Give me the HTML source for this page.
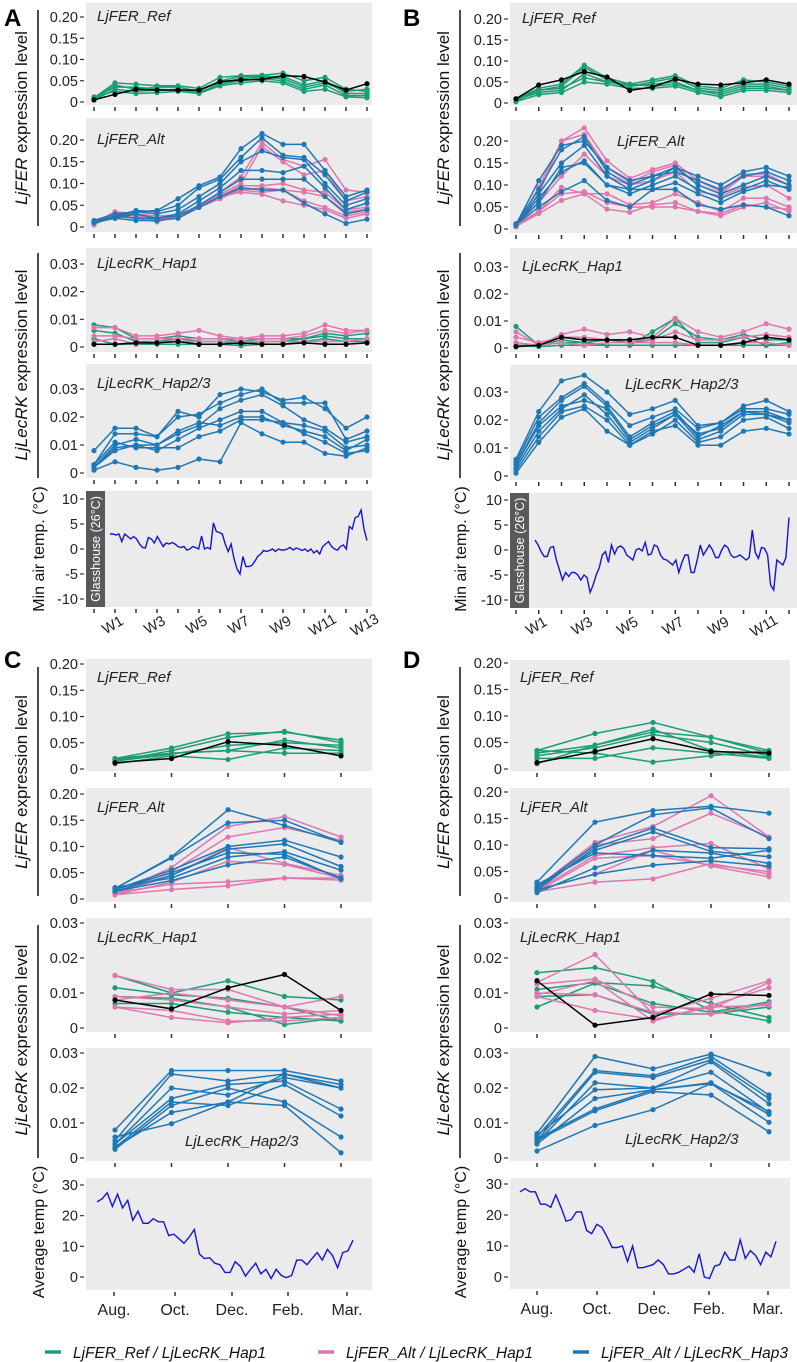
<!DOCTYPE html>
<html><head><meta charset="utf-8"><style>
body{margin:0;background:#fff;}
svg{display:block;font-family:"Liberation Sans",Arial,sans-serif;}
</style></head><body>
<svg id="fig" width="797" height="1362" viewBox="0 0 797 1362" xmlns="http://www.w3.org/2000/svg"></svg>
<script>
// ---------- DATA ----------
const ferTickVals=[0,0.05,0.10,0.15,0.20];
const ferTickLabels=['0','0.05','0.10','0.15','0.20'];
const lecTickVals=[0,0.01,0.02,0.03];
const lecTickLabels=['0','0.01','0.02','0.03'];
const minTempTickVals=[10,5,0,-5,-10];
const minTempTickLabels=['10','5','0','-5','-10'];
const avgTempTickVals=[30,20,10,0];
const avgTempTickLabels=['30','20','10','0'];
const weekLabelsA=['','W1','','W3','','W5','','W7','','W9','','W11','','W13'];
const weekLabelsB=['','W1','','W3','','W5','','W7','','W9','','W11',''];
const monthLabels=['Aug.','Oct.','Dec.','Feb.','Mar.'];

// Panel A
const A_ref_green=[[.01,.045,.042,.038,.038,.032,.058,.062,.063,.068,.05,.058,.03,.025],[.008,.04,.03,.035,.035,.025,.05,.06,.06,.06,.04,.05,.02,.02],[.005,.03,.025,.028,.03,.022,.042,.05,.055,.05,.03,.04,.015,.015],[.012,.025,.02,.022,.025,.02,.038,.045,.05,.045,.025,.03,.012,.01],[.01,.035,.035,.03,.028,.028,.045,.055,.058,.055,.035,.045,.025,.03]];
const A_ref_black=[.005,.018,.03,.028,.028,.028,.048,.052,.053,.062,.06,.047,.028,.043];
const A_alt_pink=[[.005,.035,.03,.025,.028,.045,.08,.115,.195,.155,.14,.155,.085,.08],[.008,.03,.025,.02,.03,.045,.075,.10,.185,.15,.12,.13,.06,.07],[.005,.028,.028,.012,.03,.045,.07,.095,.095,.10,.085,.08,.04,.045],[.006,.032,.025,.015,.03,.045,.065,.085,.09,.085,.08,.07,.035,.04],[.01,.035,.03,.02,.025,.045,.07,.08,.075,.06,.05,.04,.02,.03],[.008,.03,.02,.012,.025,.05,.07,.085,.08,.085,.06,.045,.025,.035]];
const A_alt_blue=[[.012,.022,.035,.038,.065,.095,.115,.18,.215,.19,.19,.13,.07,.085],[.01,.025,.038,.035,.05,.09,.11,.16,.205,.165,.16,.12,.06,.08],[.015,.03,.035,.03,.04,.07,.10,.15,.175,.16,.155,.10,.05,.065],[.01,.02,.03,.02,.03,.06,.09,.13,.13,.125,.14,.09,.04,.055],[.012,.025,.02,.02,.025,.05,.08,.11,.11,.11,.11,.07,.03,.04],[.012,.02,.015,.015,.02,.045,.07,.09,.085,.085,.055,.03,.008,.018]];
const A_hap1_green=[[.008,.007,.003,.003,.004,.003,.003,.002,.003,.003,.003,.005,.004,.005],[.006,.005,.002,.002,.003,.002,.002,.001,.002,.002,.003,.004,.003,.003],[.003,.001,.001,.001,.001,.001,.001,.0005,.001,.001,.002,.003,.002,.002]];
const A_hap1_pink=[[.007,.007,.004,.004,.005,.006,.004,.003,.004,.004,.005,.008,.006,.006],[.004,.004,.003,.003,.003,.003,.003,.003,.003,.003,.004,.006,.005,.006],[.002,.003,.001,.002,.002,.002,.002,.002,.002,.002,.002,.002,.002,.003]];
const A_hap1_black=[.001,.001,.0015,.0015,.002,.001,.001,.0015,.001,.001,.0015,.001,.001,.0015];
const A_hap23_blue=[[.008,.016,.016,.013,.022,.020,.028,.030,.029,.026,.027,.023,.016,.020],[.003,.014,.014,.013,.020,.021,.025,.028,.030,.025,.025,.025,.012,.015],[.002,.010,.012,.010,.014,.017,.023,.026,.028,.024,.019,.016,.011,.013],[.002,.009,.010,.008,.012,.016,.019,.022,.022,.018,.017,.015,.009,.010],[.003,.011,.009,.009,.009,.013,.015,.019,.019,.018,.014,.011,.007,.008],[.001,.004,.002,.001,.002,.005,.004,.018,.014,.011,.011,.007,.006,.009],[.002,.008,.010,.010,.015,.018,.017,.020,.020,.017,.015,.013,.008,.012]];
const A_minTemp=[3,3,2.8,3,1.5,3,2.5,2,2.5,2,1,0.3,0.2,2.3,2,1.2,2.5,1.5,0.5,1.2,1,1.3,1,0.5,0.3,0.5,-0.2,0,0.5,0.3,0,2.6,0,0.3,0,5.2,3.5,3.3,3,1,-0.5,1,-2,-4,-5,-1.5,-3.5,-3.5,-3.3,-2.5,-1.5,-1,-0.3,-0.5,-0.3,0,-0.5,0,-0.2,-0.2,0,0.3,-0.2,0.2,0,-0.3,0,-0.5,0,-0.8,-0.3,-1,0.5,1,1.5,0.5,0,-0.2,0.5,0.8,0,4.5,4,6.3,6.5,7.8,4,1.7];

// Panel B
const B_ref_green=[[.01,.035,.045,.09,.06,.045,.055,.065,.04,.035,.055,.05,.04],[.005,.03,.04,.085,.055,.04,.05,.06,.035,.03,.045,.045,.035],[.008,.025,.03,.07,.05,.04,.045,.05,.03,.025,.04,.04,.03],[.003,.02,.025,.05,.045,.035,.035,.04,.025,.015,.03,.03,.025],[.01,.03,.035,.06,.05,.045,.04,.045,.03,.02,.035,.035,.03]];
const B_ref_black=[.01,.043,.055,.075,.062,.03,.038,.057,.045,.043,.048,.055,.045];
const B_alt_pink=[[.005,.095,.20,.23,.155,.115,.135,.15,.11,.085,.125,.125,.10],[.008,.08,.20,.215,.14,.105,.13,.145,.10,.08,.12,.12,.10],[.008,.06,.12,.17,.12,.10,.11,.13,.085,.075,.095,.10,.07],[.005,.04,.095,.08,.08,.055,.06,.08,.06,.04,.07,.07,.05],[.006,.035,.065,.08,.045,.038,.055,.06,.04,.03,.05,.06,.04],[.01,.04,.08,.085,.06,.05,.05,.05,.04,.035,.055,.05,.045]];
const B_alt_blue=[[.01,.11,.19,.20,.14,.11,.12,.14,.12,.10,.13,.14,.12],[.012,.09,.18,.21,.13,.10,.12,.13,.11,.09,.12,.13,.11],[.008,.08,.15,.19,.12,.09,.11,.14,.10,.08,.10,.12,.10],[.01,.07,.13,.155,.10,.08,.10,.12,.09,.07,.09,.11,.09],[.01,.05,.085,.11,.065,.05,.09,.09,.055,.045,.055,.05,.03],[.012,.06,.14,.15,.10,.09,.09,.105,.08,.06,.085,.10,.095]];
const B_hap1_green=[[.008,.001,.003,.002,.003,.002,.003,.009,.004,.003,.005,.003,.003],[.001,.001,.002,.002,.001,.001,.006,.011,.002,.002,.004,.001,.002],[.001,.0005,.001,.001,.001,.001,.001,.001,.001,.001,.001,.001,.001]];
const B_hap1_pink=[[.006,.001,.005,.007,.005,.006,.004,.011,.006,.004,.006,.009,.007],[.004,.002,.004,.004,.003,.003,.003,.006,.003,.003,.004,.005,.004],[.002,.001,.002,.001,.002,.002,.002,.002,.001,.001,.002,.002,.001]];
const B_hap1_black=[.0005,.001,.004,.003,.003,.003,.004,.004,.001,.001,.002,.004,.003];
const B_hap23_blue=[[.006,.023,.034,.036,.030,.022,.024,.027,.018,.019,.025,.027,.023],[.005,.021,.028,.033,.026,.018,.021,.024,.017,.019,.024,.024,.022],[.004,.019,.027,.032,.025,.014,.019,.023,.014,.018,.023,.023,.020],[.003,.016,.024,.029,.022,.012,.017,.022,.013,.016,.022,.022,.019],[.002,.014,.023,.025,.020,.011,.015,.020,.012,.014,.020,.021,.017],[.001,.012,.021,.024,.016,.011,.016,.018,.011,.011,.016,.017,.015],[.004,.018,.025,.027,.024,.013,.018,.022,.015,.017,.023,.022,.020]];
const B_minTemp=[2,1,-0.3,-1.3,-1.3,0.5,0.7,-2,-4,-6,-4.5,-5.3,-4.5,-4.5,-5,-6,-5,-5.5,-8.5,-7,-5,-3.5,-1,-0.3,-2.5,1,-0.8,0.5,0.8,0.3,-1,-1.5,-2,0,0.3,-0.2,1.5,-1,-0.8,1,0.7,-1,-1.8,-2,-2.5,-3,-2,-4.5,-2.5,-1,-1,-4.5,-4.5,-2,1,-1,0,1,0,-1.5,-1.5,0,1,0.5,-1,-1.5,-1.3,-1,-1.5,-2,-1.5,4,-0.5,-1.7,0.5,0.3,-1,-7,-8,-2,-2.5,-3,-1.5,6.5];

// Panel C
const C_ref_green=[[.02,.04,.067,.07,.055],[.015,.035,.06,.072,.05],[.018,.03,.035,.055,.04],[.01,.025,.018,.04,.035],[.02,.03,.035,.03,.03],[.015,.028,.045,.05,.045]];
const C_ref_black=[.012,.02,.052,.045,.025];
const C_alt_pink=[[.01,.06,.138,.157,.118],[.012,.052,.118,.136,.112],[.01,.045,.098,.068,.045],[.008,.032,.072,.066,.04],[.012,.028,.033,.04,.036],[.008,.018,.025,.04,.04]];
const C_alt_blue=[[.02,.08,.17,.14,.108],[.02,.078,.145,.15,.108],[.018,.055,.10,.112,.08],[.015,.045,.095,.105,.062],[.022,.04,.08,.09,.055],[.015,.035,.065,.08,.04],[.018,.05,.088,.085,.038]];
const C_hap1_green=[[.015,.01,.0135,.009,.008],[.0115,.0095,.0085,.006,.002],[.009,.0085,.006,.001,.003],[.007,.007,.0045,.003,.002]];
const C_hap1_pink=[[.015,.011,.011,.006,.009],[.009,.008,.006,.004,.005],[.006,.005,.002,.002,.003],[.006,.003,.0015,.003,.004],[.008,.01,.008,.006,.0035]];
const C_hap1_black=[.008,.0055,.0115,.0153,.005];
const C_hap23_blue=[[.008,.025,.025,.025,.022],[.005,.024,.022,.024,.020],[.004,.02,.018,.023,.02],[.004,.017,.021,.022,.014],[.003,.016,.015,.021,.012],[.0025,.015,.02,.016,.006],[.003,.013,.016,.015,.0015],[.006,.0098,.016,.024,.021]];
const C_avgTemp=[24.5,25.5,27.5,23,27,22.5,25,18.5,21.5,17.5,17.5,19,18,18,13.5,14,12.5,11,13,15.5,7.5,6,6.3,4.5,4,1.5,1.5,5,3.5,0.3,2.5,4.5,1,2.5,-0.5,2.5,0.5,-0.2,0.5,5.5,5.5,4,6,8,5.5,9,7,3,8,8.5,12];

// Panel D
const D_ref_green=[[.035,.067,.088,.06,.035],[.03,.045,.07,.06,.03],[.025,.04,.065,.05,.025],[.02,.02,.04,.03,.02],[.035,.03,.013,.025,.035],[.01,.045,.075,.035,.022]];
const D_ref_black=[.012,.033,.057,.033,.03];
const D_alt_pink=[[.02,.105,.135,.193,.115],[.018,.1,.112,.16,.115],[.015,.08,.095,.103,.055],[.012,.075,.08,.062,.05],[.015,.045,.09,.06,.04],[.012,.03,.036,.065,.045]];
const D_alt_blue=[[.03,.143,.165,.173,.16],[.02,.10,.157,.17,.112],[.015,.095,.132,.095,.093],[.02,.09,.125,.088,.078],[.01,.057,.09,.085,.065],[.015,.045,.062,.07,.06],[.025,.085,.08,.075,.09]];
const D_hap1_green=[[.0158,.0173,.0133,.005,.002],[.011,.013,.012,.007,.003],[.009,.0095,.004,.004,.006],[.006,.0128,.007,.0045,.0075]];
const D_hap1_pink=[[.013,.021,.004,.0085,.0135],[.0125,.014,.006,.0055,.013],[.01,.0095,.0045,.004,.007],[.009,.005,.0025,.006,.0065],[.0095,.0135,.002,.0065,.0115]];
const D_hap1_black=[.0135,.0008,.003,.0097,.0093];
const D_hap23_blue=[[.007,.029,.0255,.0297,.024],[.006,.025,.0235,.029,.018],[.005,.0245,.023,.028,.017],[.0045,.0215,.02,.0275,.0155],[.0065,.0195,.02,.0245,.013],[.004,.017,.0195,.0215,.0125],[.0055,.014,.0195,.0213,.0102],[.005,.0135,.019,.018,.0075],[.002,.0093,.0138,.0213,.0133]];
const D_avgTemp=[27.5,28.5,27.5,27.5,23.5,23.5,22.5,26.5,22.5,18,18.5,21,21,15,14,17,16,13,9.5,9.5,10,5,10,3,3,3.5,4,5.5,4,1,1,1.5,2.5,3.5,1.5,7.5,0,-0.5,3.5,4,8,5.5,5.5,12,6,8.5,7,4,8,6.5,11.5];

// ---------- DRAW ----------
const NS='http://www.w3.org/2000/svg';
const svg=document.getElementById('fig');
const GREEN='#1b9e77',PINK='#de77ae',BLUE='#1f78b4',BLACK='#000',TEMP='#1414d2';
function mk(tag,attrs,parent){const e=document.createElementNS(NS,tag);for(const k in attrs)e.setAttribute(k,attrs[k]);(parent||svg).appendChild(e);return e;}

function exprPanel(p){
  const g=mk('g',{});
  
  
  const bg=mk('rect',{x:p.x0,y:p.y0,width:p.x1-p.x0,height:p.y1-p.y0,fill:'#ebebeb'},g);
  
  
  const yS=v=>p.yZero-(v/p.vmax)*(p.yZero-p.yTop);
  const xS=i=>p.tx0+i*(p.tx1-p.tx0)/(p.n-1);
  p.tickVals.forEach((v,i)=>{
    const t=mk('line',{x1:p.axisX-4,x2:p.axisX,y1:yS(v),y2:yS(v),stroke:'#333','stroke-width':1.2},g);
    
    
    const l=mk('text',{x:p.axisX-6,y:yS(v)+5,'text-anchor':'end','font-size':14.5,fill:'#222'},g);
    l.textContent=p.tickLabels[i];
    
    
  });
  for(let i=0;i<p.n;i++){
    const t=mk('line',{x1:xS(i),x2:xS(i),y1:p.y1+2,y2:p.y1+6,stroke:'#333','stroke-width':1.5},g);
    
    
  }
  const lbl=mk('text',{x:p.lx,y:p.ly,'font-size':15,'font-style':'italic',fill:'#222'},g);
  lbl.textContent=p.label;
  
  
  p.series.forEach(s=>{
    s.sets.forEach((arr,si)=>{
      const pts=arr.map((v,i)=>xS(i).toFixed(1)+','+yS(v).toFixed(1)).join(' ');
      const pl=mk('polyline',{points:pts,fill:'none',stroke:s.color,'stroke-width':1.5},g);
      
      
      arr.forEach((v,i)=>{
        const c=mk('circle',{cx:xS(i),cy:yS(v),r:2.6,fill:s.color},g);
        
        
      });
    });
  });
}

function tempPanel(p){
  const g=mk('g',{});
  
  
  const bg=mk('rect',{x:p.x0,y:p.y0,width:p.x1-p.x0,height:p.y1-p.y0,fill:'#ebebeb'},g);
  
  
  const yS=v=>p.yA+(p.vA-v)/(p.vA-p.vB)*(p.yB-p.yA);
  p.tickVals.forEach((v,i)=>{
    const t=mk('line',{x1:p.axisX-4,x2:p.axisX,y1:yS(v),y2:yS(v),stroke:'#333','stroke-width':1.2},g);
    
    
    const l=mk('text',{x:p.axisX-6,y:yS(v)+5,'text-anchor':'end','font-size':14.5,fill:'#222'},g);
    l.textContent=p.tickLabels[i];
    
    
  });
  if(p.glass){
    const r=mk('rect',{x:p.x0,y:p.y0,width:19,height:p.y1-p.y0,fill:'#595959'},g);
    
    
    const gt=mk('text',{x:0,y:0,'font-size':12.5,fill:'#fff','text-anchor':'middle',transform:`translate(${p.x0+14},${(p.y0+p.y1)/2}) rotate(-90)`},g);
    gt.textContent='Glasshouse (26°C)';
    
    
  }
  const n=p.data.length;
  const xS=i=>p.dx0+i*(p.dx1-p.dx0)/(n-1);
  const pts=p.data.map((v,i)=>xS(i).toFixed(1)+','+yS(v).toFixed(1)).join(' ');
  const pl=mk('polyline',{points:pts,fill:'none',stroke:TEMP,'stroke-width':1.4},g);
  
  
  p.ticks.forEach((x,i)=>{
    const t=mk('line',{x1:x,x2:x,y1:p.y1+2,y2:p.y1+6,stroke:'#333','stroke-width':1.5},g);
    
    
    const lab=p.labels[i];
    if(!lab)return;
    let tx;
    if(p.rot){tx=mk('text',{x:0,y:0,'font-size':14.5,fill:'#222','text-anchor':'middle',transform:`translate(${x},${p.y1+22}) rotate(-30)`},g);}
    else{tx=mk('text',{x:x,y:p.y1+25,'font-size':16,fill:'#222','text-anchor':'middle'},g);}
    tx.textContent=lab;
    
    
  });
}

function evenTicks(a,b,n){const r=[];for(let i=0;i<n;i++)r.push(a+i*(b-a)/(n-1));return r;}

function S(g,p,b,k){const out=[{kind:'green-ref',color:GREEN,sets:g||[]},{kind:'pink-alt',color:PINK,sets:p||[]},{kind:'blue-alt-hap3',color:BLUE,sets:b||[]}];if(k)out.push({kind:'black-reference',color:BLACK,sets:[k]});return out;}

// A
exprPanel({name:'panel-a-ljfer-ref',x0:86,x1:372,y0:3,y1:105,axisX:84,yZero:102,yTop:17,vmax:.2,tickVals:ferTickVals,tickLabels:ferTickLabels,tx0:94,tx1:367,n:14,label:'LjFER_Ref',lx:97,ly:21,series:S(A_ref_green,null,null,A_ref_black)});
exprPanel({name:'panel-a-ljfer-alt',x0:86,x1:372,y0:118,y1:232,axisX:84,yZero:227,yTop:140,vmax:.2,tickVals:ferTickVals,tickLabels:ferTickLabels,tx0:94,tx1:367,n:14,label:'LjFER_Alt',lx:97,ly:144,series:S(null,A_alt_pink,A_alt_blue)});
exprPanel({name:'panel-a-hap1',x0:86,x1:372,y0:248,y1:352,axisX:84,yZero:347,yTop:264,vmax:.03,tickVals:lecTickVals,tickLabels:lecTickLabels,tx0:94,tx1:367,n:14,label:'LjLecRK_Hap1',lx:97,ly:268,series:S(A_hap1_green,A_hap1_pink,null,A_hap1_black)});
exprPanel({name:'panel-a-hap23',x0:86,x1:372,y0:364,y1:478,axisX:84,yZero:473,yTop:389,vmax:.03,tickVals:lecTickVals,tickLabels:lecTickLabels,tx0:94,tx1:367,n:14,label:'LjLecRK_Hap2/3',lx:97,ly:388,series:S(null,null,A_hap23_blue)});
tempPanel({name:'panel-a-min-temp',x0:86,x1:372,y0:491,y1:607,axisX:84,yA:499,vA:10,yB:599,vB:-10,tickVals:minTempTickVals,tickLabels:minTempTickLabels,glass:true,data:A_minTemp,dx0:110,dx1:367,ticks:evenTicks(94,367,14),labels:weekLabelsA,rot:true});
// B
exprPanel({name:'panel-b-ljfer-ref',x0:510,x1:797,y0:3,y1:105,axisX:508,yZero:103,yTop:19,vmax:.2,tickVals:ferTickVals,tickLabels:ferTickLabels,tx0:516,tx1:789,n:13,label:'LjFER_Ref',lx:522,ly:23,series:S(B_ref_green,null,null,B_ref_black)});
exprPanel({name:'panel-b-ljfer-alt',x0:510,x1:797,y0:120,y1:233,axisX:508,yZero:229,yTop:141,vmax:.2,tickVals:ferTickVals,tickLabels:ferTickLabels,tx0:516,tx1:789,n:13,label:'LjFER_Alt',lx:617,ly:146,series:S(null,B_alt_pink,B_alt_blue)});
exprPanel({name:'panel-b-hap1',x0:510,x1:797,y0:248,y1:352,axisX:508,yZero:348,yTop:267,vmax:.03,tickVals:lecTickVals,tickLabels:lecTickLabels,tx0:516,tx1:789,n:13,label:'LjLecRK_Hap1',lx:522,ly:271,series:S(B_hap1_green,B_hap1_pink,null,B_hap1_black)});
exprPanel({name:'panel-b-hap23',x0:510,x1:797,y0:365,y1:480,axisX:508,yZero:476,yTop:392,vmax:.03,tickVals:lecTickVals,tickLabels:lecTickLabels,tx0:516,tx1:789,n:13,label:'LjLecRK_Hap2/3',lx:625,ly:389,series:S(null,null,B_hap23_blue)});
tempPanel({name:'panel-b-min-temp',x0:510,x1:797,y0:493,y1:608,axisX:508,yA:500,vA:10,yB:600,vB:-10,tickVals:minTempTickVals,tickLabels:minTempTickLabels,glass:true,data:B_minTemp,dx0:535,dx1:789,ticks:evenTicks(516,789,13),labels:weekLabelsB,rot:true});
// C
exprPanel({name:'panel-c-ljfer-ref',x0:86,x1:372,y0:659,y1:771,axisX:84,yZero:769,yTop:664,vmax:.2,tickVals:ferTickVals,tickLabels:ferTickLabels,tx0:115,tx1:341,n:5,label:'LjFER_Ref',lx:97,ly:682,series:S(C_ref_green,null,null,C_ref_black)});
exprPanel({name:'panel-c-ljfer-alt',x0:86,x1:372,y0:788,y1:902,axisX:84,yZero:899,yTop:794,vmax:.2,tickVals:ferTickVals,tickLabels:ferTickLabels,tx0:115,tx1:341,n:5,label:'LjFER_Alt',lx:97,ly:812,series:S(null,C_alt_pink,C_alt_blue)});
exprPanel({name:'panel-c-hap1',x0:86,x1:372,y0:918,y1:1032,axisX:84,yZero:1028,yTop:923,vmax:.03,tickVals:lecTickVals,tickLabels:lecTickLabels,tx0:115,tx1:341,n:5,label:'LjLecRK_Hap1',lx:97,ly:942,series:S(C_hap1_green,C_hap1_pink,null,C_hap1_black)});
exprPanel({name:'panel-c-hap23',x0:86,x1:372,y0:1048,y1:1161,axisX:84,yZero:1158,yTop:1053,vmax:.03,tickVals:lecTickVals,tickLabels:lecTickLabels,tx0:115,tx1:341,n:5,label:'LjLecRK_Hap2/3',lx:185,ly:1146,series:S(null,null,C_hap23_blue)});
tempPanel({name:'panel-c-avg-temp',x0:86,x1:372,y0:1178,y1:1290,axisX:84,yA:1185,vA:30,yB:1277,vB:0,tickVals:avgTempTickVals,tickLabels:avgTempTickLabels,glass:false,data:C_avgTemp,dx0:97,dx1:353,ticks:[114,175,232,288,347],labels:monthLabels,rot:false});
// D
exprPanel({name:'panel-d-ljfer-ref',x0:510,x1:790,y0:660,y1:771,axisX:508,yZero:769,yTop:663,vmax:.2,tickVals:ferTickVals,tickLabels:ferTickLabels,tx0:537,tx1:769,n:5,label:'LjFER_Ref',lx:520,ly:682,series:S(D_ref_green,null,null,D_ref_black)});
exprPanel({name:'panel-d-ljfer-alt',x0:510,x1:790,y0:788,y1:902,axisX:508,yZero:898,yTop:792,vmax:.2,tickVals:ferTickVals,tickLabels:ferTickLabels,tx0:537,tx1:769,n:5,label:'LjFER_Alt',lx:520,ly:812,series:S(null,D_alt_pink,D_alt_blue)});
exprPanel({name:'panel-d-hap1',x0:510,x1:790,y0:918,y1:1032,axisX:508,yZero:1028,yTop:923,vmax:.03,tickVals:lecTickVals,tickLabels:lecTickLabels,tx0:537,tx1:769,n:5,label:'LjLecRK_Hap1',lx:520,ly:942,series:S(D_hap1_green,D_hap1_pink,null,D_hap1_black)});
exprPanel({name:'panel-d-hap23',x0:510,x1:790,y0:1048,y1:1161,axisX:508,yZero:1158,yTop:1053,vmax:.03,tickVals:lecTickVals,tickLabels:lecTickLabels,tx0:537,tx1:769,n:5,label:'LjLecRK_Hap2/3',lx:625,ly:1144,series:S(null,null,D_hap23_blue)});
tempPanel({name:'panel-d-avg-temp',x0:510,x1:790,y0:1178,y1:1289,axisX:508,yA:1184,vA:30,yB:1277,vB:0,tickVals:avgTempTickVals,tickLabels:avgTempTickLabels,glass:false,data:D_avgTemp,dx0:520,dx1:776,ticks:[537,597,654,709,768],labels:monthLabels,rot:false});

// Axis titles & bars
function ytitle(cx,cy,html,name,size){
  const t=mk('text',{x:0,y:0,'font-size':size,fill:'#111','text-anchor':'middle',transform:`translate(${cx},${cy}) rotate(-90)`});
  t.innerHTML=html;
  
  
}
function bar(x,y0,y1){
  const l=mk('line',{x1:x,x2:x,y1:y0,y2:y1,stroke:'#111','stroke-width':1.5});
  
  
}
const FER='<tspan font-style="italic">LjFER</tspan> expression level';
const LEC='<tspan font-style="italic">LjLecRK</tspan> expression level';
[0,422].forEach(dx=>{
  ytitle(27+dx,118,FER,'y-axis-title-ljfer',17);bar(38+dx,10,226);
  ytitle(27+dx,365,LEC,'y-axis-title-ljlecrk',17);bar(38+dx,253,478);
  ytitle(44+dx,549,'Min air temp. (°C)','y-axis-title-min-temp',16);
  ytitle(27+dx,782,FER,'y-axis-title-ljfer',17);bar(38+dx,667,896);
  ytitle(27+dx,1040,LEC,'y-axis-title-ljlecrk',17);bar(38+dx,925,1158);
  ytitle(44+dx,1232,'Average temp (°C)','y-axis-title-avg-temp',16);
});
// Panel letters
[['A',4,26],['B',403,26],['C',4,668],['D',403,668]].forEach(([t,x,y])=>{
  const e=mk('text',{x:x,y:y,'font-size':24,'font-weight':'bold',fill:'#000'});
  e.textContent=t;
  
  
});
// Legend
[[GREEN,45,'LjFER_Ref / LjLecRK_Hap1'],[PINK,318,'LjFER_Alt / LjLecRK_Hap1'],[BLUE,573,'LjFER_Alt / LjLecRK_Hap3']].forEach(([c,x,t])=>{
  const g=mk('g',{});
  
  
  const l=mk('line',{x1:x,x2:x+16,y1:1352,y2:1352,stroke:c,'stroke-width':3.5},g);
  
  
  const tx=mk('text',{x:x+28,y:1358,'font-size':15.5,'font-style':'italic',fill:'#111'},g);
  tx.textContent=t;
  
  
});
</script>
</body></html>
